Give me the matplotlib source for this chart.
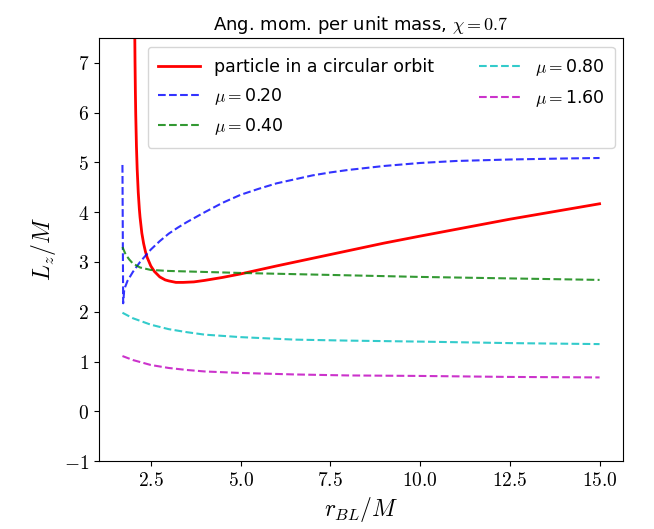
import matplotlib
matplotlib.use("Agg")
import matplotlib.pyplot as plt
from matplotlib.ticker import FuncFormatter, MultipleLocator

plt.rcParams["mathtext.fontset"] = "cm"

# particle in a circular orbit
r_circ = [2.03, 2.04, 2.05, 2.06, 2.07, 2.08, 2.1, 2.12, 2.15, 2.18, 2.2,
          2.25, 2.3, 2.35, 2.4, 2.5, 2.6, 2.75, 2.9, 3.0, 3.2, 3.4, 3.7,
          4.0, 4.5, 5.0, 6.0, 7.5, 9.0, 10.0, 12.5, 15.0]
L_circ = [11.48, 9.15, 7.86, 7.03, 6.43, 5.97, 5.32, 4.87, 4.40, 4.07, 3.90,
          3.58, 3.37, 3.21, 3.09, 2.92, 2.81, 2.70, 2.64, 2.62, 2.59, 2.59,
          2.60, 2.63, 2.69, 2.76, 2.92, 3.15, 3.38, 3.52, 3.86, 4.17]

# mu = 0.20
r_mu1 = [1.71, 1.72, 1.73, 1.76, 1.85, 2.0, 2.2, 2.5, 2.75, 3.0, 3.25, 3.5,
         4.0, 4.5, 5.0, 5.5, 6.0, 6.5, 7.0, 7.5, 8.0, 9.0, 10.0, 11.0,
         12.5, 14.0, 15.0]
L_mu1 = [4.95, 3.5, 2.17, 2.45, 2.62, 2.8, 3.0, 3.25, 3.42, 3.57, 3.69, 3.8,
         4.0, 4.19, 4.35, 4.47, 4.58, 4.66, 4.74, 4.8, 4.85, 4.93, 4.99, 5.03,
         5.06, 5.08, 5.09]

# mu = 0.40
r_mu2 = [1.71, 1.8, 1.9, 2.0, 2.2, 2.5, 3.0, 4.0, 5.0, 7.5, 10.0, 12.5, 15.0]
L_mu2 = [3.30, 3.15, 3.05, 2.97, 2.89, 2.84, 2.82, 2.80, 2.78, 2.74, 2.70,
         2.67, 2.64]

# mu = 0.80
r_mu3 = [1.71, 2.0, 2.5, 3.0, 3.5, 4.0, 5.0, 6.5, 8.0, 10.0, 12.5, 15.0]
L_mu3 = [1.98, 1.87, 1.74, 1.65, 1.59, 1.54, 1.49, 1.44, 1.42, 1.40, 1.37,
         1.35]

# mu = 1.60
r_mu4 = [1.71, 2.0, 2.5, 3.0, 3.5, 4.0, 5.0, 6.5, 8.0, 10.0, 12.5, 15.0]
L_mu4 = [1.11, 1.03, 0.93, 0.87, 0.83, 0.80, 0.77, 0.74, 0.72, 0.71, 0.69,
         0.68]

fig, ax = plt.subplots(figsize=(6.54, 5.29), dpi=100)
fig.subplots_adjust(left=0.151, right=0.953, top=0.928, bottom=0.1285)

ax.plot(r_circ, L_circ, color="r", lw=2, label="particle in a circular orbit")
ax.plot(r_mu1, L_mu1, "b--", alpha=0.8, label=r"$\mu=$0.20")
ax.plot(r_mu2, L_mu2, "g--", alpha=0.8, label=r"$\mu=$0.40")
ax.plot(r_mu3, L_mu3, "c--", alpha=0.8, label=r"$\mu=$0.80")
ax.plot(r_mu4, L_mu4, "m--", alpha=0.8, label=r"$\mu=$1.60")

ax.set_xlim(1.05, 15.66)
ax.set_ylim(-1, 7.5)
ax.xaxis.set_major_locator(MultipleLocator(2.5))
ax.yaxis.set_major_locator(MultipleLocator(1))
ax.xaxis.set_major_formatter(FuncFormatter(lambda v, p: f"${v:.1f}$"))
ax.yaxis.set_major_formatter(FuncFormatter(lambda v, p: f"${v:.0f}$"))
ax.tick_params(labelsize=14)

ax.set_xlabel(r"$r_{BL}/M$", fontsize=17)
ax.set_ylabel(r"$L_z/M$", fontsize=17)
ax.set_title(r"Ang. mom. per unit mass, $\chi=0.7$", fontsize=13)
ax.legend(ncol=2, loc="upper right", fontsize=12.5, columnspacing=2.6,
          handlelength=2.4, borderpad=0.6, labelspacing=0.55)

fig.savefig("out.png")
